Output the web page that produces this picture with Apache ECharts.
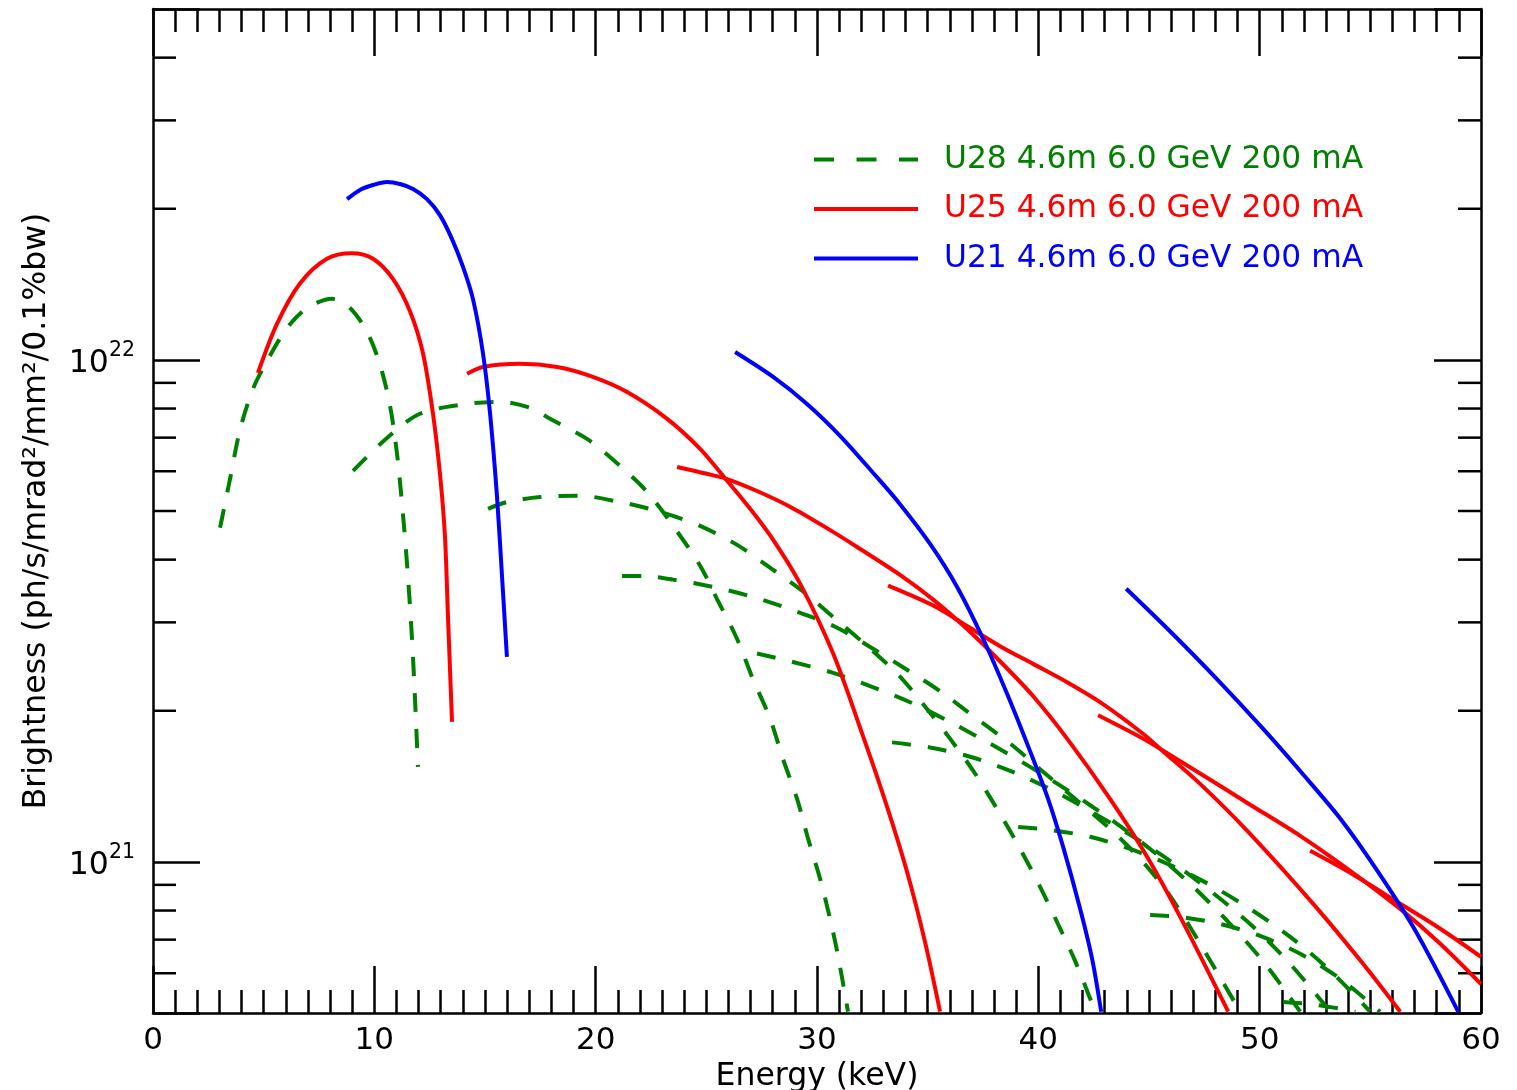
<!DOCTYPE html>
<html>
<head>
<meta charset="utf-8">
<script src="https://cdn.jsdelivr.net/npm/echarts@6/dist/echarts.min.js"></script>
<style>
html,body{margin:0;padding:0;background:#fff;}
#c{width:1517px;height:1090px;}
</style>
</head>
<body>
<div id="c"></div>
<script>
// ---------------- data (energy keV, brightness ph/s/mrad^2/mm^2/0.1%bw) ----------------
const NAME_U28 = 'U28 4.6m 6.0 GeV 200 mA';
const NAME_U25 = 'U25 4.6m 6.0 GeV 200 mA';
const NAME_U21 = 'U21 4.6m 6.0 GeV 200 mA';

const U28_H1 = [[3.03,4.63e21],[3.48,5.79e21],[3.93,7.25e21],[4.52,8.76e21],[5.15,9.95e21],[6.06,1.158e22],[6.96,1.269e22],[8.09,1.323e22],[8.90,1.269e22],[9.67,1.137e22],[10.26,9.77e21],[10.71,8.10e21],[11.03,6.47e21],[11.30,4.89e21],[11.52,3.70e21],[11.70,2.79e21],[11.84,2.10e21],[11.97,1.546e21]];
const U28_H3 = [[9.04,6.01e21],[10.57,6.99e21],[12.06,7.81e21],[14.19,8.17e21],[15.68,8.25e21],[17.17,7.99e21],[17.94,7.63e21],[19.61,6.96e21],[21.10,6.15e21],[22.32,5.46e21],[23.50,4.67e21],[24.72,3.89e21],[25.48,3.34e21],[26.39,2.78e21],[27.11,2.31e21],[27.88,1.93e21],[28.47,1.60e21],[29.10,1.335e21],[29.60,1.111e21],[30.14,9.25e20],[30.59,7.70e20],[30.95,6.50e20],[31.40,5.03e20]];
const U28_H5 = [[15.14,5.05e21],[16.00,5.21e21],[17.49,5.33e21],[19.29,5.36e21],[21.10,5.21e21],[22.59,5.03e21],[23.50,4.89e21],[24.72,4.67e21],[26.39,4.28e21],[27.97,3.83e21],[29.51,3.42e21],[30.82,3.05e21],[32.40,2.66e21],[33.75,2.34e21],[34.88,2.04e21],[36.01,1.76e21],[37.14,1.50e21],[38.27,1.246e21],[39.18,1.061e21],[40.08,8.92e20],[40.89,7.52e20],[41.66,6.35e20],[42.57,5.03e20]];
const U28_H7 = [[21.19,3.71e21],[22.14,3.71e21],[23.50,3.65e21],[25.30,3.53e21],[27.11,3.37e21],[29.01,3.16e21],[30.82,2.94e21],[32.40,2.68e21],[34.03,2.42e21],[35.61,2.18e21],[37.14,1.94e21],[38.73,1.72e21],[40.08,1.53e21],[41.66,1.335e21],[43.24,1.163e21],[44.60,1.014e21],[45.95,8.56e20],[47.31,6.87e20],[49.12,5.03e20]];
const U28_H9 = [[27.29,2.60e21],[28.78,2.51e21],[30.59,2.39e21],[32.40,2.24e21],[34.21,2.08e21],[36.01,1.90e21],[37.82,1.72e21],[39.63,1.546e21],[41.44,1.378e21],[43.24,1.218e21],[45.05,1.061e21],[46.86,9.04e20],[48.67,7.52e20],[50.25,6.26e20],[51.83,5.03e20]];
const U28_H11 = [[33.39,1.73e21],[35.11,1.69e21],[36.92,1.62e21],[38.73,1.518e21],[40.53,1.397e21],[42.34,1.263e21],[44.15,1.132e21],[45.95,1.005e21],[47.76,8.76e20],[49.57,7.52e20],[51.38,6.26e20],[53.19,5.03e20]];
const U28_H13 = [[39.09,1.174e21],[40.53,1.158e21],[42.34,1.122e21],[44.15,1.061e21],[45.95,9.86e20],[47.76,9.00e20],[49.57,8.06e20],[51.38,7.09e20],[53.19,6.07e20],[54.99,5.03e20]];
const U28_H15 = [[45.05,7.84e20],[46.41,7.77e20],[48.21,7.52e20],[50.02,7.12e20],[51.83,6.56e20],[53.64,5.85e20],[55.44,5.03e20]];
const U28_H17 = [[51.06,5.26e20],[52.28,5.21e20],[53.64,5.10e20],[54.32,5.03e20]];

const U25_H1 = [[4.74,9.42e21],[5.60,1.18e22],[6.64,1.42e22],[7.86,1.59e22],[8.99,1.63e22],[9.94,1.59e22],[10.84,1.45e22],[11.61,1.25e22],[12.20,1.03e22],[12.65,7.81e21],[12.97,5.90e21],[13.19,4.46e21],[13.33,3.06e21],[13.51,1.90e21]];
const U25_H3 = [[14.19,9.38e21],[14.91,9.68e21],[16.58,9.82e21],[18.26,9.68e21],[19.75,9.29e21],[21.42,8.63e21],[23.23,7.63e21],[24.72,6.65e21],[25.76,5.87e21],[26.98,5.05e21],[28.02,4.38e21],[29.24,3.58e21],[30.73,2.60e21],[32.08,1.78e21],[33.17,1.286e21],[34.07,9.55e20],[34.88,6.93e20],[35.56,5.03e20]];
const U25_H5 = [[23.68,6.12e21],[25.03,5.93e21],[25.94,5.79e21],[27.29,5.48e21],[28.78,5.10e21],[30.28,4.67e21],[31.81,4.24e21],[33.75,3.73e21],[35.25,3.33e21],[36.78,2.91e21],[38.27,2.51e21],[39.76,2.14e21],[41.30,1.76e21],[43.24,1.335e21],[44.92,1.023e21],[46.41,7.77e20],[48.58,5.03e20]];
const U25_H7 = [[33.21,3.55e21],[35.25,3.24e21],[36.78,2.95e21],[38.27,2.69e21],[39.76,2.48e21],[41.30,2.28e21],[42.79,2.08e21],[44.73,1.80e21],[45.64,1.66e21],[47.31,1.43e21],[49.44,1.153e21],[52.42,8.25e20],[54.68,6.26e20],[56.35,5.03e20]];
const U25_H9 = [[42.70,1.96e21],[44.73,1.76e21],[47.31,1.50e21],[49.57,1.30e21],[51.83,1.127e21],[54.09,9.60e20],[56.35,8.06e20],[58.16,6.87e20],[60.0,5.71e20]];
const U25_H11 = [[52.28,1.052e21],[54.09,9.51e20],[56.35,8.25e20],[58.16,7.36e20],[60.0,6.47e20]];

const U21_H1 = [[8.77,2.09e22],[9.35,2.18e22],[9.94,2.23e22],[10.57,2.26e22],[11.16,2.24e22],[11.75,2.19e22],[12.38,2.09e22],[12.97,1.94e22],[13.51,1.74e22],[14.01,1.53e22],[14.46,1.32e22],[14.91,1.03e22],[15.23,7.81e21],[15.54,5.36e21],[15.77,3.70e21],[15.99,2.56e21]];
const U21_H3 = [[26.30,1.037e22],[28.02,9.25e21],[29.55,8.17e21],[31.04,7.06e21],[32.53,5.96e21],[33.75,5.16e21],[35.11,4.30e21],[36.33,3.53e21],[37.51,2.78e21],[38.63,2.14e21],[39.63,1.66e21],[40.44,1.335e21],[41.12,1.071e21],[41.89,8.06e20],[42.43,6.41e20],[42.84,5.03e20]];
const U21_H5 = [[43.97,3.50e21],[45.95,2.88e21],[48.08,2.31e21],[50.16,1.84e21],[51.87,1.51e21],[53.64,1.22e21],[55.35,9.55e20],[57.07,7.25e20],[58.97,5.03e20]];

const X_RANGE = [0, 60];
const X_MAJOR_STEP = 10;
const Y_RANGE = [5e20, 5e22];
const Y_MINOR_TICKS = [6e20,7e20,8e20,9e20,2e21,3e21,4e21,5e21,6e21,7e21,8e21,9e21,2e22,3e22,4e22];
const X_TITLE = 'Energy (keV)';
const Y_TITLE = 'Brightness (ph/s/mrad²/mm²/0.1%bw)';

// ---------------- styles ----------------
const FONT = 'DejaVu Sans';
const GREEN = '#008000', RED = '#ff0000', BLUE = '#0000ff';
const AX = {color:'#000', width:2.5};

function curve(name, data, color, dashed) {
  return {
    type:'line', name, data, symbol:'none', showSymbol:false, smooth:0.3, clip:true,
    xAxisIndex:0, yAxisIndex:0, silent:true,
    lineStyle:{color, width:4, type: dashed ? [19,17] : 'solid', cap:'butt'},
    itemStyle:{color}, emphasis:{disabled:true}
  };
}

const xCommon = {
  type:'value', min:X_RANGE[0], max:X_RANGE[1], interval:X_MAJOR_STEP,
  axisLine:{show:true, onZero:false, lineStyle:AX},
  axisTick:{show:true, inside:true, length:47, lineStyle:AX},
  minorTick:{show:true, splitNumber:10, length:23, lineStyle:AX},
  splitLine:{show:false}, minorSplitLine:{show:false}
};
const yCommon = {
  type:'log', logBase:10, min:Y_RANGE[0], max:Y_RANGE[1],
  axisLine:{show:true, onZero:false, lineStyle:AX},
  axisTick:{show:true, inside:true, length:47, lineStyle:AX},
  splitLine:{show:false}
};

function powLabel(v) {
  const l = Math.log10(v);
  const e = Math.round(l);
  if (Math.abs(l - e) > 1e-6) return '';
  if (v < Y_RANGE[0] * 1.01 || v > Y_RANGE[1] * 0.99) return '';
  return '{b|10}{s|' + e + '}';
}

const chart = echarts.init(document.getElementById('c'), null, {renderer:'canvas'});
const option = {
  animation:false,
  backgroundColor:'#ffffff',
  textStyle:{fontFamily:FONT},
  grid:{left:153, right:36, top:9, bottom:77, containLabel:false, outerBoundsMode:'none'},
  legend:{
    orient:'vertical', left:812, top:144, padding:0,
    itemWidth:104, itemHeight:30, itemGap:18.5,
    selectedMode:false,
    itemStyle:{opacity:0},
    lineStyle:{width:4},
    textStyle:{fontSize:31.3, fontFamily:FONT, lineHeight:30, padding:[0,0,0,21]},
    data:[
      {name:NAME_U28, textStyle:{color:GREEN}, lineStyle:{width:4, type:[20,22.5]}},
      {name:NAME_U25, textStyle:{color:RED}, lineStyle:{width:4}},
      {name:NAME_U21, textStyle:{color:BLUE}, lineStyle:{width:4}}
    ]
  },
  xAxis:[
    Object.assign({}, xCommon, {
      position:'bottom',
      axisLabel:{show:true, fontSize:31, color:'#000', fontFamily:FONT, margin:12},
      name:X_TITLE, nameLocation:'middle', nameGap:43,
      nameTextStyle:{fontSize:31.5, color:'#000', fontFamily:FONT}
    }),
    Object.assign({}, xCommon, {position:'top', axisLabel:{show:false}})
  ],
  yAxis:[
    Object.assign({}, yCommon, {
      position:'left',
      axisLabel:{
        show:true, margin:18, formatter:powLabel,
        rich:{
          b:{fontSize:31.5, fontFamily:FONT, color:'#000', lineHeight:40, verticalAlign:'bottom'},
          s:{fontSize:20.5, fontFamily:FONT, color:'#000', lineHeight:20, verticalAlign:'top'}
        }
      },
      name:Y_TITLE, nameLocation:'middle', nameGap:100, nameRotate:90,
      nameTextStyle:{fontSize:31.5, color:'#000', fontFamily:FONT}
    }),
    Object.assign({}, yCommon, {position:'right', axisLabel:{show:false}})
  ],
  series:[
    curve(NAME_U28, U28_H1, GREEN, true),
    curve(NAME_U28, U28_H3, GREEN, true),
    curve(NAME_U28, U28_H5, GREEN, true),
    curve(NAME_U28, U28_H7, GREEN, true),
    curve(NAME_U28, U28_H9, GREEN, true),
    curve(NAME_U28, U28_H11, GREEN, true),
    curve(NAME_U28, U28_H13, GREEN, true),
    curve(NAME_U28, U28_H15, GREEN, true),
    curve(NAME_U28, U28_H17, GREEN, true),
    curve(NAME_U25, U25_H1, RED, false),
    curve(NAME_U25, U25_H3, RED, false),
    curve(NAME_U25, U25_H5, RED, false),
    curve(NAME_U25, U25_H7, RED, false),
    curve(NAME_U25, U25_H9, RED, false),
    curve(NAME_U25, U25_H11, RED, false),
    curve(NAME_U21, U21_H1, BLUE, false),
    curve(NAME_U21, U21_H3, BLUE, false),
    curve(NAME_U21, U21_H5, BLUE, false),
    {
      type:'custom', name:'minor log ticks', xAxisIndex:0, yAxisIndex:0, silent:true, clip:false, z:3,
      data:Y_MINOR_TICKS.map(v => [X_RANGE[0], v]),
      encode:{x:0, y:1},
      renderItem:function(params, api){
        const v = api.value(1);
        const pl = api.coord([X_RANGE[0], v]);
        const pr = api.coord([X_RANGE[1], v]);
        return {type:'group', children:[
          {type:'line', shape:{x1:pl[0], y1:pl[1], x2:pl[0] + 23, y2:pl[1]}, style:{stroke:'#000', lineWidth:2.5}},
          {type:'line', shape:{x1:pr[0], y1:pr[1], x2:pr[0] - 23, y2:pr[1]}, style:{stroke:'#000', lineWidth:2.5}}
        ]};
      }
    }
  ]
};
chart.setOption(option);
</script>
</body>
</html>
